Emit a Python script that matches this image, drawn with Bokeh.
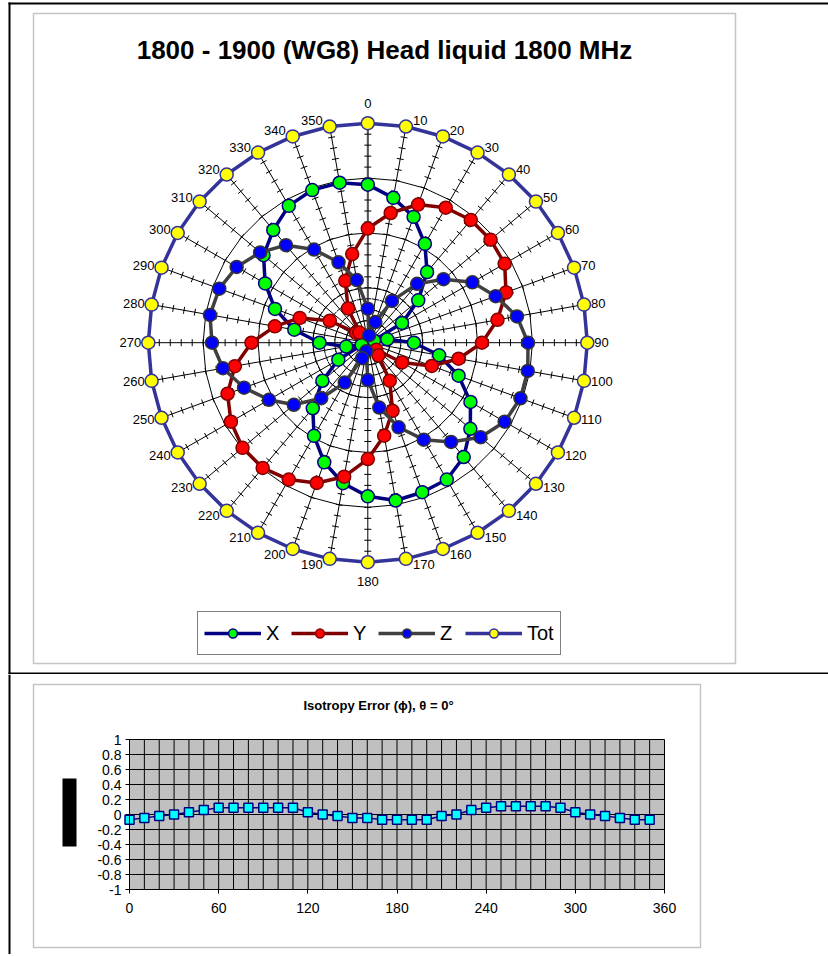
import numpy as np
from bokeh.plotting import figure
from bokeh.models import ColumnDataSource, Range1d, BoxAnnotation, Legend, LegendItem, FixedTicker
from bokeh.layouts import column
from bokeh.embed import file_html
from bokeh.resources import INLINE
from bokeh.core.properties import value

# ---------------- data ----------------
angles = [0, 10, 20, 30, 40, 50, 60, 70, 80, 90, 100, 110, 120, 130, 140, 150, 160, 170,
          180, 190, 200, 210, 220, 230, 240, 250, 260, 270, 280, 290, 300, 310, 320, 330, 340, 350]
x_comp = [0.72, 0.67, 0.61, 0.52, 0.42, 0.30, 0.18, 0.03, 0.09, 0.21, 0.33, 0.44, 0.54, 0.61, 0.68, 0.72, 0.725, 0.73,
          0.70, 0.65, 0.58, 0.49, 0.39, 0.27, 0.155, 0.03, 0.10, 0.22, 0.34, 0.45, 0.54, 0.62, 0.67, 0.72, 0.74, 0.74]
y_comp = [0.52, 0.60, 0.67, 0.71, 0.73, 0.73, 0.72, 0.67, 0.60, 0.52, 0.42, 0.31, 0.18, 0.05, 0.075, 0.20, 0.33, 0.43,
          0.53, 0.62, 0.68, 0.72, 0.745, 0.745, 0.72, 0.68, 0.615, 0.53, 0.43, 0.33, 0.20, 0.07, 0.06, 0.18, 0.30, 0.41]
z_comp = [0.155, 0.035, 0.10, 0.22, 0.35, 0.45, 0.55, 0.62, 0.69, 0.73, 0.74, 0.74, 0.72, 0.67, 0.59, 0.51, 0.41, 0.30,
          0.17, 0.04, 0.075, 0.21, 0.33, 0.44, 0.52, 0.60, 0.67, 0.71, 0.73, 0.72, 0.69, 0.64, 0.58, 0.49, 0.39, 0.29]
tot = [1.0, 1.0, 1.0, 1.0, 1.0, 1.0, 1.0, 1.0, 1.0, 1.0, 1.0, 1.0, 1.0, 1.0, 1.0, 1.0, 1.0, 1.0,
       1.0, 1.0, 1.0, 1.0, 1.0, 1.0, 1.0, 1.0, 1.0, 1.0, 1.0, 1.0, 1.0, 1.0, 1.0, 1.0, 1.0, 1.0]
grid_levels = [0.25, 0.5, 0.75, 1.0]
minor_ticks = [0.05, 0.10, 0.15, 0.20, 0.25, 0.30, 0.35, 0.40, 0.45, 0.50,
               0.55, 0.60, 0.65, 0.70, 0.75, 0.80, 0.85, 0.90, 0.95, 1.0]
series_names = ["X", "Y", "Z", "Tot"]
title1 = "1800 - 1900 (WG8) Head liquid 1800 MHz"

iso_phi = [0, 10, 20, 30, 40, 50, 60, 70, 80, 90, 100, 110, 120, 130, 140, 150, 160, 170,
           180, 190, 200, 210, 220, 230, 240, 250, 260, 270, 280, 290, 300, 310, 320, 330, 340, 350]
iso_err = [-0.07, -0.045, -0.02, 0.0, 0.03, 0.06, 0.09, 0.09, 0.09, 0.09, 0.09, 0.09, 0.03, 0.0, -0.02, -0.045, -0.045, -0.07,
           -0.07, -0.07, -0.07, -0.02, 0.0, 0.06, 0.09, 0.11, 0.11, 0.11, 0.11, 0.09, 0.03, 0.0, -0.02, -0.045, -0.07, -0.07]
x_ticks = [0, 60, 120, 180, 240, 300, 360]
x_grid = [0, 10, 20, 30, 40, 50, 60, 70, 80, 90, 100, 110, 120, 130, 140, 150, 160, 170, 180,
          190, 200, 210, 220, 230, 240, 250, 260, 270, 280, 290, 300, 310, 320, 330, 340, 350, 360]
y_ticks = [-1.0, -0.8, -0.6, -0.4, -0.2, 0.0, 0.2, 0.4, 0.6, 0.8, 1.0]
y_tick_labels = ["-1", "-0.8", "-0.6", "-0.4", "-0.2", "0", "0.2", "0.4", "0.6", "0.8", "1"]
title2 = "Isotropy Error (\u03d5), \u03b8 = 0\u00b0"

# ---------------- layout constants ----------------
W = 828
H1 = 674
H2 = 280
CX, CY = 367.3, 342.2     # pole position on the polar canvas
RPX = 219.5               # pixels per unit radius
FONT = "Liberation Sans"


def dx(px):
    return (px - CX) / RPX


def dy(py):
    return (CY - py) / RPX


# ---------------- polar figure ----------------
p1 = figure(width=W, height=H1, output_backend="svg", toolbar_location=None,
            x_range=Range1d(dx(0), dx(W)), y_range=Range1d(dy(H1), dy(0)),
            min_border=0, x_axis_location=None, y_axis_location=None)
p1.grid.visible = False
p1.outline_line_color = None
p1.background_fill_color = "white"
p1.border_fill_color = "white"

th = np.radians(np.array(angles, dtype=float))
s, c = np.sin(th), np.cos(th)

gx = [list(np.append(r * s, r * s[0])) for r in grid_levels]
gy = [list(np.append(r * c, r * c[0])) for r in grid_levels]
p1.multi_line(gx, gy, line_color="black", line_width=1)

rmax = grid_levels[-1]
p1.segment(x0=np.zeros_like(s), y0=np.zeros_like(c), x1=s * rmax, y1=c * rmax,
           line_color="black", line_width=1)
p1.segment(x0=[0], y0=[0], x1=[0], y1=[rmax], line_color="#555555", line_width=2)

hl = 3.5 / RPX
tx0, ty0, tx1, ty1 = [], [], [], []
for si, ci in zip(s, c):
    for r in minor_ticks:
        px_, py_ = r * si, r * ci
        tx0.append(px_ - hl * ci)
        ty0.append(py_ + hl * si)
        tx1.append(px_ + hl * ci)
        ty1.append(py_ - hl * si)
p1.segment(x0=tx0, y0=ty0, x1=tx1, y1=ty1, line_color="black", line_width=1)

styles = [
    (x_comp, "#000080", "#00FF00", "#000080"),
    (y_comp, "#800000", "#FF0000", "#800000"),
    (z_comp, "#404040", "#0000FF", "#333333"),
    (tot, "#333399", "#FFFF00", "#333399"),
]
items = []
for name, (vals, lc, fc, oc) in zip(series_names, styles):
    v = np.array(vals)
    xs = v * s
    ys = v * c
    lr = p1.line(list(np.append(xs, xs[0])), list(np.append(ys, ys[0])), line_color=lc, line_width=3.5)
    sr = p1.scatter(xs, ys, marker="circle", size=13, fill_color=fc, line_color=oc, line_width=1.5)
    items.append(LegendItem(label=name, renderers=[lr, sr]))

lab_align, lab_xoff, lab_yoff = [], [], []
for a, ci in zip(angles, c):
    if a == 0:
        lab_align.append("center"); lab_xoff.append(0); lab_yoff.append(-20)
    elif a == 180:
        lab_align.append("center"); lab_xoff.append(0); lab_yoff.append(19)
    elif a < 180:
        lab_align.append("left"); lab_xoff.append(7); lab_yoff.append(-6.0 * ci)
    else:
        lab_align.append("right"); lab_xoff.append(-7); lab_yoff.append(-6.0 * ci)
lab_src = ColumnDataSource(dict(x=s * rmax, y=c * rmax, text=[str(a) for a in angles],
                                align=lab_align, xo=lab_xoff, yo=lab_yoff))
p1.text(x="x", y="y", text="text", source=lab_src, text_align="align", text_baseline="middle",
        x_offset="xo", y_offset="yo", text_font=value(FONT), text_font_size=value("13px"),
        text_color="#000000")

p1.text(x=[dx(384)], y=[dy(49)], text=[title1],
        text_align="center", text_baseline="middle", text_font=value(FONT),
        text_font_size=value("26px"), text_font_style="bold", text_color="black")

# chart box and page rules
p1.add_layout(BoxAnnotation(left=dx(33), right=dx(735), top=dy(13), bottom=dy(663),
                            fill_color=None, line_color="#404040", line_width=1.5))
p1.add_layout(BoxAnnotation(left=dx(8), right=dx(10), top=dy(2), bottom=dy(674),
                            fill_color="black", fill_alpha=1, line_color=None, line_alpha=0))
p1.add_layout(BoxAnnotation(left=dx(8), right=dx(828), top=dy(2), bottom=dy(4),
                            fill_color="black", fill_alpha=1, line_color=None, line_alpha=0))
p1.add_layout(BoxAnnotation(left=dx(8), right=dx(828), top=dy(672), bottom=dy(674),
                            fill_color="black", fill_alpha=1, line_color=None, line_alpha=0))

legend = Legend(items=items, location=(197, 19), orientation="horizontal",
                glyph_width=57, glyph_height=22, label_height=30, label_standoff=5,
                spacing=5, padding=6, margin=0, border_line_color="black", border_line_width=1,
                background_fill_color="white", background_fill_alpha=1,
                label_text_font=FONT, label_text_font_size="20px", label_text_color="black")
p1.add_layout(legend)

# ---------------- isotropy error figure ----------------
KX = 535.0 / 360.0   # px per degree
KY = 75.0            # px per unit
X0, Y0 = 129.0, 65.0  # canvas px of (0, 1)


def ex(px):
    return (px - X0) / KX


def ey(py):
    return 1.0 - (py - Y0) / KY


p2 = figure(width=W, height=H2, output_backend="svg", toolbar_location=None,
            x_range=Range1d(ex(0), ex(W)), y_range=Range1d(ey(H2), ey(0)), min_border=0)
p2.grid.visible = False
p2.outline_line_color = None
p2.background_fill_color = "white"
p2.border_fill_color = "white"

xa, xb = x_grid[0], x_grid[-1]
ya, yb = y_ticks[0], y_ticks[-1]
p2.quad(left=[xa], right=[xb], bottom=[ya], top=[yb], fill_color="#C0C0C0", line_color=None, level="image")
p2.segment(x0=x_grid, x1=x_grid, y0=[ya] * len(x_grid), y1=[yb] * len(x_grid),
           line_color="black", line_width=1)
p2.segment(x0=[xa] * len(y_ticks), x1=[xb] * len(y_ticks), y0=y_ticks, y1=y_ticks,
           line_color="black", line_width=1)

p2.xaxis.fixed_location = ya
p2.yaxis.fixed_location = xa
p2.xaxis.bounds = (xa, xb)
p2.yaxis.bounds = (ya, yb)
p2.xaxis.ticker = FixedTicker(ticks=x_ticks)
p2.yaxis.ticker = FixedTicker(ticks=y_ticks)
p2.yaxis.major_label_overrides = {t: l for t, l in zip(y_ticks, y_tick_labels)}
for ax in (p2.xaxis[0], p2.yaxis[0]):
    ax.minor_tick_line_color = None
    ax.major_tick_in = 0
    ax.major_tick_out = 4
    ax.axis_line_color = "black"
    ax.major_tick_line_color = "black"
    ax.major_label_text_font = FONT
    ax.major_label_text_font_size = "14px"
    ax.major_label_text_color = "black"
p2.yaxis.major_label_standoff = 4
p2.xaxis.major_label_standoff = 9

p2.line(iso_phi, iso_err, line_color="#000080", line_width=1.5)
p2.scatter(iso_phi, iso_err, marker="square", size=9, fill_color="#00FFFF",
           line_color="#000080", line_width=1.5)

p2.text(x=[ex(378)], y=[ey(31)], text=[title2], text_align="center", text_baseline="middle",
        text_font=value(FONT), text_font_size=value("13px"), text_font_style="bold",
        text_color="black")
p2.add_layout(BoxAnnotation(left=ex(33), right=ex(700), top=ey(10), bottom=ey(273),
                            fill_color=None, line_color="#404040", line_width=1.5))
p2.add_layout(BoxAnnotation(left=ex(62), right=ex(76), top=ey(104), bottom=ey(172),
                            fill_color="black", fill_alpha=1, line_color=None, line_alpha=0))
p2.add_layout(BoxAnnotation(left=ex(8), right=ex(10), top=ey(0), bottom=ey(H2),
                            fill_color="black", fill_alpha=1, line_color=None, line_alpha=0))

layout = column(p1, p2, spacing=0)
open("out.html", "w").write(file_html(layout, INLINE))
